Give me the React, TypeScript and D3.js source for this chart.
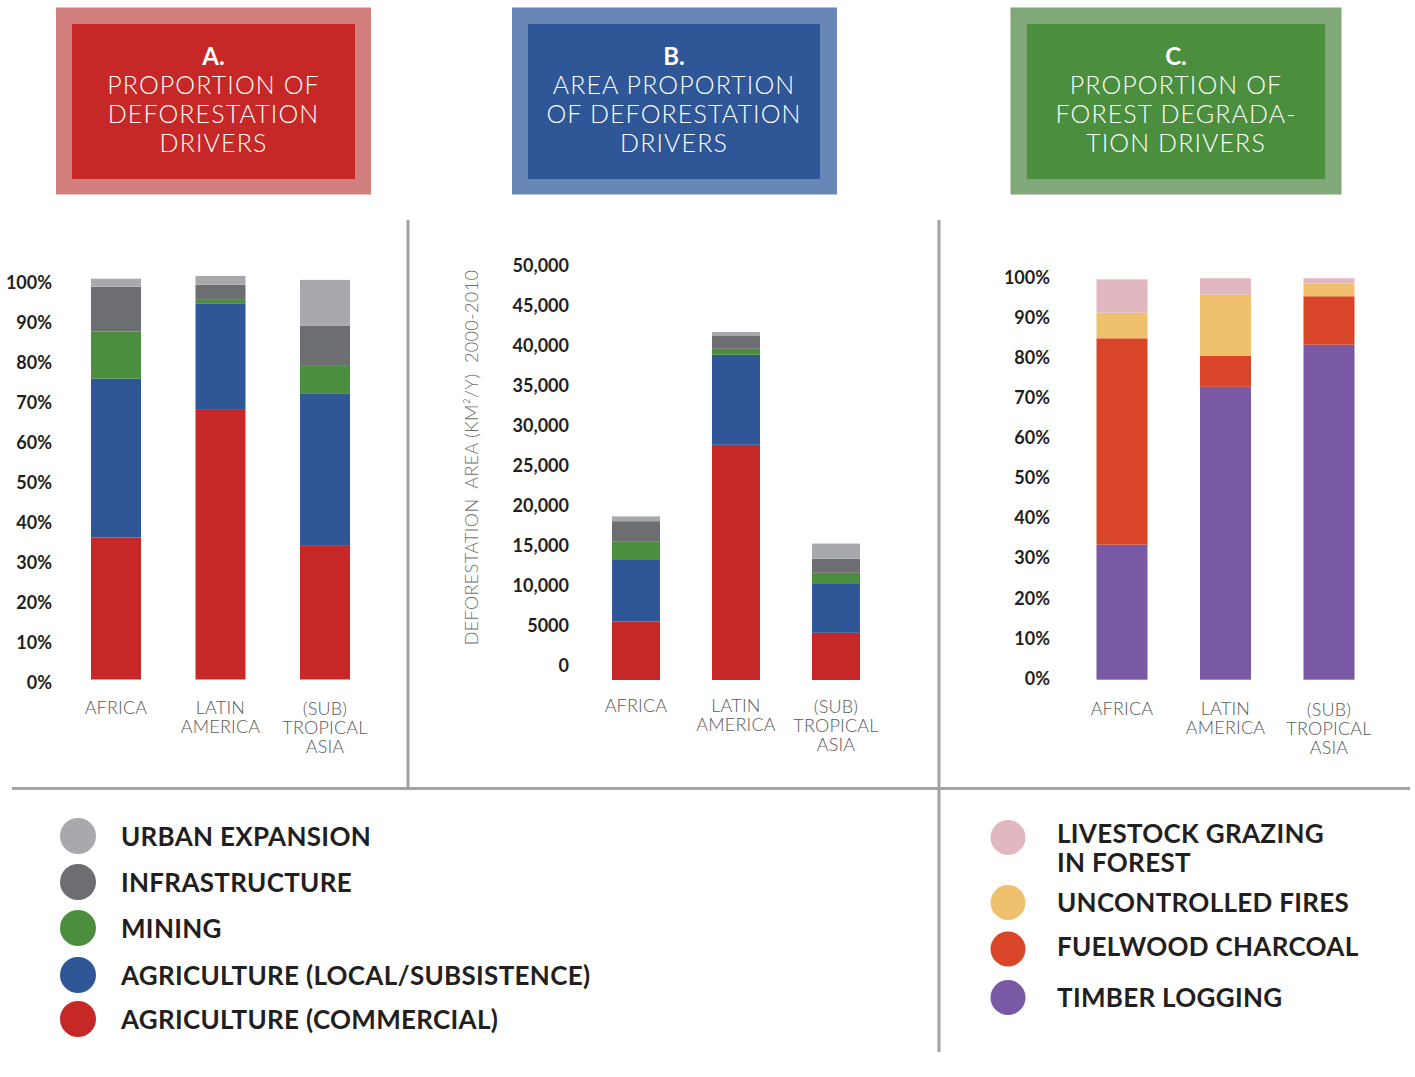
import React from "react";
import * as d3 from "d3";

// ---------- DATA ----------
const categories = ["AFRICA", "LATIN AMERICA", "(SUB) TROPICAL ASIA"];
const categoryLines = [["AFRICA"], ["LATIN", "AMERICA"], ["(SUB)", "TROPICAL", "ASIA"]];

// A. proportion of deforestation drivers (%)
const propCommercial = [35.5, 67.4, 33.6];
const propLocal = [39.7, 26.5, 37.8];
const propMining = [11.8, 1.2, 7.2];
const propInfra = [11.2, 3.6, 9.8];
const propUrban = [2.0, 2.2, 11.5];

// B. area of deforestation drivers (km2/y, 2000-2010)
const areaCommercial = [7300, 29400, 5900];
const areaLocal = [7800, 11250, 6100];
const areaMining = [2250, 750, 1400];
const areaInfra = [2500, 1600, 1750];
const areaUrban = [600, 500, 1900];

// C. proportion of forest degradation drivers (%)
const degTimber = [33.7, 73.1, 83.6];
const degFuelwood = [51.5, 7.8, 12.1];
const degFires = [6.4, 15.2, 3.2];
const degLivestock = [8.3, 4.1, 1.3];

const pctTicks = [0, 10, 20, 30, 40, 50, 60, 70, 80, 90, 100];
const pctTickLabels = ["0%", "10%", "20%", "30%", "40%", "50%", "60%", "70%", "80%", "90%", "100%"];
const areaTicks = [0, 5000, 10000, 15000, 20000, 25000, 30000, 35000, 40000, 45000, 50000];
const areaTickLabels = ["0", "5000", "10,000", "15,000", "20,000", "25,000", "30,000", "35,000", "40,000", "45,000", "50,000"];

const deforKeys = ["commercial", "local", "mining", "infra", "urban"];
const deforColors = ["#c62828", "#2f5696", "#4b8e3e", "#6d6e71", "#a7a9ac"];
const degKeys = ["timber", "fuelwood", "fires", "livestock"];
const degColors = ["#7a59a4", "#d84528", "#efc16f", "#e2b8c0"];

const legendLeftLabels = [
  "URBAN EXPANSION",
  "INFRASTRUCTURE",
  "MINING",
  "AGRICULTURE (LOCAL/SUBSISTENCE)",
  "AGRICULTURE (COMMERCIAL)",
];
const legendLeftColors = ["#a7a9ac", "#6d6e71", "#4b8e3e", "#2f5696", "#c62828"];
const legendRightLabels = [["LIVESTOCK GRAZING", "IN FOREST"], ["UNCONTROLLED FIRES"], ["FUELWOOD CHARCOAL"], ["TIMBER LOGGING"]];
const legendRightColors = ["#e2b8c0", "#efc16f", "#d84528", "#7a59a4"];

const headerA = ["PROPORTION OF", "DEFORESTATION", "DRIVERS"];
const headerB = ["AREA PROPORTION", "OF DEFORESTATION", "DRIVERS"];
const headerC = ["PROPORTION OF", "FOREST DEGRADA-", "TION DRIVERS"];

// ---------- LAYOUT ----------
const FONT = "Lato, 'Noto Sans', sans-serif";
const DARK = "#231f20";
const GRAY_TXT = "#58595b";
const LINE = "#a3a3a7";

const propRows = categories.map((c, i) => ({
  cat: c,
  commercial: propCommercial[i],
  local: propLocal[i],
  mining: propMining[i],
  infra: propInfra[i],
  urban: propUrban[i],
}));
const areaRows = categories.map((c, i) => ({
  cat: c,
  commercial: areaCommercial[i],
  local: areaLocal[i],
  mining: areaMining[i],
  infra: areaInfra[i],
  urban: areaUrban[i],
}));
const degRows = categories.map((c, i) => ({
  cat: c,
  timber: degTimber[i],
  fuelwood: degFuelwood[i],
  fires: degFires[i],
  livestock: degLivestock[i],
}));

function Stack({ rows, keys, colors, x, y, barWidth }: any) {
  const series = d3.stack<any>().keys(keys)(rows);
  return (
    <g>
      {series.map((s: any, i: number) =>
        s.map((d: any, j: number) => (
          <rect
            key={keys[i] + j}
            x={(x(rows[j].cat) as number) - barWidth / 2}
            y={y(d[1])}
            width={barWidth}
            height={y(d[0]) - y(d[1])}
            fill={colors[i]}
          />
        ))
      )}
    </g>
  );
}

function YTicks({ ticks, labels, y, xRight, offset }: any) {
  return (
    <g>
      {ticks.map((t: number, i: number) => (
        <text
          key={t}
          x={xRight}
          y={y(t) + offset + 6.5}
          textAnchor="end"
          fontFamily={FONT}
          fontWeight={700}
          fontSize={18}
          fill={DARK}
        >
          {labels[i]}
        </text>
      ))}
    </g>
  );
}

function XLabels({ x, top }: any) {
  return (
    <g>
      {categories.map((c, i) =>
        categoryLines[i].map((ln, k) => (
          <text
            key={c + k}
            x={x(c)}
            y={top + i * 0.6 + k * 19 + 6.5}
            textAnchor="middle"
            fontFamily={FONT}
            fontWeight={300}
            fontSize={18}
            letterSpacing={0.2}
            fill={GRAY_TXT}
          >
            {ln}
          </text>
        ))
      )}
    </g>
  );
}

function Header({ ox, ow, ix, iw, outer, inner, letter, lines }: any) {
  const cx = ix + iw / 2;
  return (
    <g>
      <rect x={ox} y={7.5} width={ow} height={187} fill={outer} />
      <rect x={ix} y={24} width={iw} height={155} fill={inner} />
      <text x={cx} y={65} textAnchor="middle" fontFamily={FONT} fontWeight={700} fontSize={24} fill="#fff">
        {letter}
      </text>
      {lines.map((l: string, k: number) => (
        <text
          key={k}
          x={cx}
          y={94 + k * 29}
          textAnchor="middle"
          fontFamily={FONT}
          fontWeight={300}
          fontSize={25}
          letterSpacing={1.1}
          fill="#fff"
        >
          {l}
        </text>
      ))}
    </g>
  );
}

export default function App() {
  // chart A
  const xA = d3.scalePoint<string>().domain(categories).range([116, 325]);
  const yA = d3.scaleLinear().domain([0, 100]).range([679.5, 279.5]);
  // chart B
  const xB = d3.scalePoint<string>().domain(categories).range([636, 836]);
  const yB = d3.scaleLinear().domain([0, 50000]).range([680, 280]);
  // chart C
  const xC = d3.scalePoint<string>().domain(categories).range([1122, 1329]);
  const yC = d3.scaleLinear().domain([0, 100]).range([679.7, 279]);

  const leftLegendY = [836, 882, 928, 975, 1019];
  const rightLegendY = [837.5, 902.5, 949, 997.5];
  const rightLegendTextY = [833, 902, 946.5, 997];

  return (
    <svg
      width={1415}
      height={1077}
      viewBox="0 0 1415 1077"
      style={{ position: "absolute", left: 0, top: 0, background: "#fff" }}
    >
      <rect x={0} y={0} width={1415} height={1077} fill="#fff" />

      <Header ox={56} ow={315} ix={72} iw={283} outer="#d17e7e" inner="#c52826" letter="A." lines={headerA} />
      <Header ox={512} ow={325} ix={528} iw={292} outer="#6886b6" inner="#2f5696" letter="B." lines={headerB} />
      <Header ox={1010.5} ow={331} ix={1027} iw={298} outer="#80a878" inner="#4b8e3e" letter="C." lines={headerC} />

      {/* dividers */}
      <line x1={408} x2={408} y1={220} y2={788} stroke={LINE} strokeWidth={3} />
      <line x1={939} x2={939} y1={220} y2={1052} stroke={LINE} strokeWidth={3} />
      <line x1={12} x2={1410} y1={788.5} y2={788.5} stroke={LINE} strokeWidth={3} />

      {/* Chart A */}
      <YTicks ticks={pctTicks} labels={pctTickLabels} y={yA} xRight={52} offset={2.5} />
      <Stack rows={propRows} keys={deforKeys} colors={deforColors} x={xA} y={yA} barWidth={50} />
      <XLabels x={xA} top={707} />

      {/* Chart B */}
      <YTicks ticks={areaTicks} labels={areaTickLabels} y={yB} xRight={569} offset={-15} />
      <Stack rows={areaRows} keys={deforKeys} colors={deforColors} x={xB} y={yB} barWidth={48} />
      <XLabels x={xB} top={705} />
      <text
        transform="translate(478,457.5) rotate(-90)"
        textAnchor="middle"
        fontFamily={FONT}
        fontWeight={300}
        fontSize={18}
        letterSpacing={0.35}
        fill="#6d6e71"
        style={{ whiteSpace: "pre" }}
        xmlSpace="preserve"
      >
        {"DEFORESTATION  AREA (KM²/Y)  2000-2010"}
      </text>

      {/* Chart C */}
      <YTicks ticks={pctTicks} labels={pctTickLabels} y={yC} xRight={1050} offset={-1.5} />
      <Stack rows={degRows} keys={degKeys} colors={degColors} x={xC} y={yC} barWidth={51} />
      <XLabels x={xC} top={708} />

      {/* Legend left */}
      {legendLeftLabels.map((l, i) => (
        <g key={l}>
          <circle cx={78} cy={leftLegendY[i]} r={18} fill={legendLeftColors[i]} />
          <text
            x={121}
            y={leftLegendY[i] + 9.5}
            fontFamily={FONT}
            fontWeight={700}
            fontSize={26}
            letterSpacing={0.3}
            fill={DARK}
          >
            {l}
          </text>
        </g>
      ))}

      {/* Legend right */}
      {legendRightLabels.map((ls, i) => (
        <g key={ls[0]}>
          <circle cx={1008} cy={rightLegendY[i]} r={17.5} fill={legendRightColors[i]} />
          {ls.map((l, k) => (
            <text
              key={k}
              x={1057}
              y={rightLegendTextY[i] + k * 29.5 + 9.5}
              fontFamily={FONT}
              fontWeight={700}
              fontSize={26}
              letterSpacing={0.3}
              fill={DARK}
            >
              {l}
            </text>
          ))}
        </g>
      ))}
    </svg>
  );
}
